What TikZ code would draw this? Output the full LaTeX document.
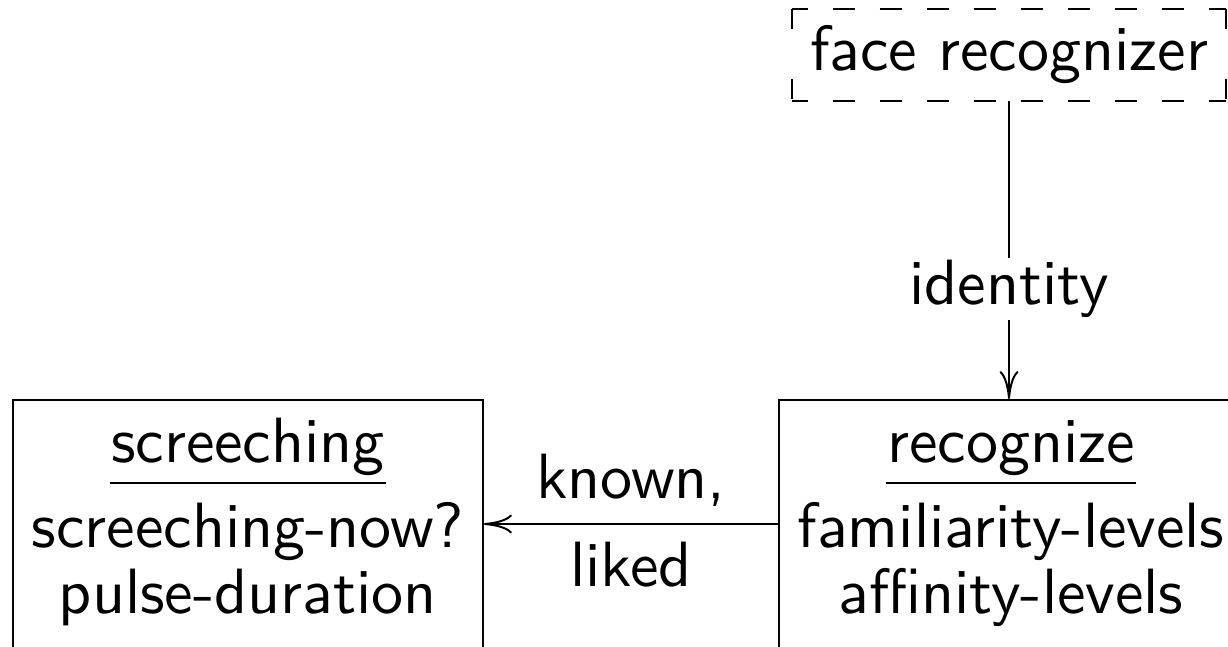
\documentclass[tikz,border=0pt]{standalone}
\usepackage{fontspec}
\newfontfamily\lmsten{lmsans10-regular}[Extension=.otf]
\usetikzlibrary{arrows.meta}
\tikzset{
  boxnode/.style={draw, rectangle, inner sep=0pt, minimum height=248pt},
  facebox/.style={rectangle, inner sep=0pt, minimum width=432pt, minimum height=90pt},
  hside/.style={dash pattern=on 22pt off 25pt, dash phase=6.5pt},
  vside/.style={dash pattern=on 20pt off 50pt},
  txt/.style={inner sep=0pt, anchor=base},
  lbl/.style={fill=white, inner sep=2pt},
  arr/.style={-{To[length=28pt,width=19pt]}},
  titlerule/.style={line width=2.2pt}
}
\begin{document}
\begin{tikzpicture}[x=1pt,y=-1pt, line width=2pt, font=\lmsten\fontsize{64}{65}\selectfont]
\useasboundingbox (0,0) rectangle (1228,647);
\clip (0,0) rectangle (1228,647);

% left box
\node[boxnode, minimum width=470pt] (scr) at (248,524) {};
\node[txt] (scrT) at (248,462) {screeching};
\node[txt] (scrA) at (248,547) {screeching-now?};
\node[txt] (scrB) at (248,613) {pulse-duration};
\draw[titlerule] ([yshift=-21pt]scrT.base west) -- ([yshift=-21pt]scrT.base east);

% right box
\node[boxnode, minimum width=464pt] (rec) at (1011,524) {};
\node[txt] (recT) at (1011,462) {recognize};
\node[txt] (recA) at (1011,547) {familiarity-levels};
\node[txt] (recB) at (1011,613) {affinity-levels};
\draw[titlerule] ([yshift=-21pt]recT.base west) -- ([yshift=-21pt]recT.base east);

% face recognizer (dashed frame)
\node[facebox] (face) at (1009,55) {face recognizer};
\draw[hside] (face.north west) -- (face.north east);
\draw[hside] (face.south west) -- (face.south east);
\draw[vside] (face.north west) -- (face.south west);
\draw[vside] (face.north east) -- (face.south east);

% connectors
\draw[arr] (face.south) -- (face.south |- rec.north) node[lbl, pos=0.63] (idl) {identity};
\draw[arr] (rec.west) -- (scr.east);
\node[txt] (kn) at (631,498) {known,};
\node[txt] (lk) at (631,586) {liked};
\end{tikzpicture}
\end{document}
